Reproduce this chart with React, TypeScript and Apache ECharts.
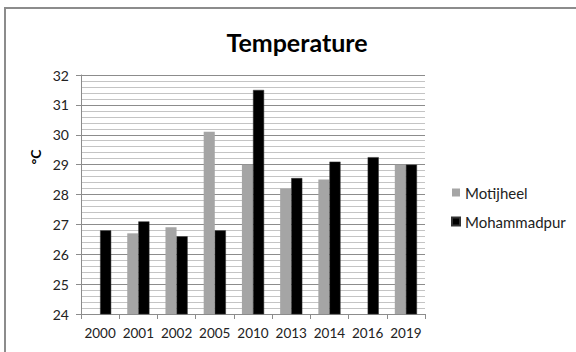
import React, { useEffect, useRef } from "react";
import * as echarts from "echarts";

const years = ["2000", "2001", "2002", "2005", "2010", "2013", "2014", "2016", "2019"];
const motijheel = [null, 26.7, 26.9, 30.1, 29.0, 28.2, 28.5, null, 29.0];
const mohammadpur = [26.8, 27.1, 26.6, 26.8, 31.5, 28.55, 29.1, 29.25, 29.0];

const FONT = "Lato, 'Open Sans', sans-serif";

export default function App() {
  const ref = useRef<HTMLDivElement>(null);

  useEffect(() => {
    if (!ref.current) return;
    const chart = echarts.init(ref.current, undefined, { renderer: "svg" });
    chart.setOption({
      animation: false,
      backgroundColor: "#ffffff",
      title: {
        text: "Temperature",
        left: 292,
        top: 24,
        textAlign: "center",
        textStyle: { fontFamily: FONT, fontWeight: "bold", fontSize: 25, color: "#000" },
      },
      legend: {
        orient: "vertical",
        left: 446,
        top: 180,
        itemWidth: 8,
        itemHeight: 8,
        itemGap: 14,
        icon: "rect",
        textStyle: { fontFamily: FONT, fontSize: 15, color: "#222" },
        data: ["Motijheel", "Mohammadpur"],
      },
      graphic: [
        {
          type: "rect",
          shape: { x: 5, y: 8, width: 620, height: 400 },
          style: { fill: "none", stroke: "#8c8c8c", lineWidth: 2 },
          silent: true,
        },
        {
          type: "text",
          x: 35,
          y: 157,
          rotation: Math.PI / 2,
          style: {
            text: "°C",
            fontFamily: FONT,
            fontWeight: "bold",
            fontSize: 14,
            fill: "#000",
            align: "center",
            verticalAlign: "middle",
          },
        },
      ],
      grid: { left: 81, right: 151, top: 75, bottom: 38, containLabel: false },
      xAxis: {
        type: "category",
        data: years,
        axisLine: { lineStyle: { color: "#8c8c8c" } },
        axisTick: { show: true, length: 5, lineStyle: { color: "#8c8c8c" } },
        axisLabel: { interval: 0, fontFamily: FONT, fontSize: 13.5, color: "#222", margin: 12 },
      },
      yAxis: {
        type: "value",
        min: 24,
        max: 32,
        interval: 1,
        axisLine: { show: true, lineStyle: { color: "#8c8c8c" } },
        axisTick: { show: true, length: 5, lineStyle: { color: "#8c8c8c" } },
        axisLabel: { fontFamily: FONT, fontSize: 14, color: "#222", margin: 12 },
        splitLine: { show: true, lineStyle: { color: "#8c8c8c", width: 1 } },
        minorTick: { show: false, splitNumber: 5 },
        minorSplitLine: { show: true, lineStyle: { color: "#c4c4c4", width: 1 } },
      },
      series: [
        {
          name: "Motijheel",
          type: "bar",
          data: motijheel,
          barGap: "0%",
          barCategoryGap: "42%",
          itemStyle: { color: "#a5a5a5" },
        },
        {
          name: "Mohammadpur",
          type: "bar",
          data: mohammadpur,
          barGap: "0%",
          barCategoryGap: "42%",
          itemStyle: { color: "#000000", borderColor: "#333", borderWidth: 0.5 },
        },
      ],
    });
    return () => chart.dispose();
  }, []);

  return (
    <div
      ref={ref}
      style={{ position: "absolute", left: 0, top: 0, width: 576, height: 352 }}
    />
  );
}
